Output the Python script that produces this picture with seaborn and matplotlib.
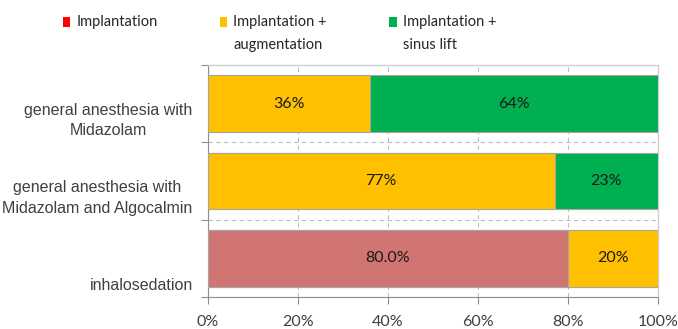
import matplotlib
matplotlib.use("Agg")
import matplotlib.pyplot as plt
from matplotlib.patches import Patch, Rectangle
from matplotlib.legend_handler import HandlerPatch
import numpy as np
import pandas as pd
import seaborn as sns

# Share of each procedure type per sedation method (percent of cases)
groups = ["general anesthesia with\nMidazolam",
          "general anesthesia with\nMidazolam and Algocalmin",
          "inhalosedation"]
implantation = [0, 0, 80.0]
augmentation = [36, 77, 20]
sinus_lift = [64, 23, 0]

series_names = ["Implantation\n ", "Implantation +\naugmentation", "Implantation +\nsinus lift"]
legend_colors = ["#FF0000", "#FFC000", "#00B050"]
bar_colors = ["#D07572", "#FFC000", "#00B050"]
label_formats = ["{:.1f}%", "{:.0f}%", "{:.0f}%"]
x_ticks = [0, 20, 40, 60, 80, 100]
x_tick_labels = ["0%", "20%", "40%", "60%", "80%", "100%"]

sns.set_style("white")
plt.rcParams["font.family"] = ["Lato", "DejaVu Sans"]

fig = plt.figure(figsize=(6.78, 3.29), dpi=100)
ax = fig.add_axes([208 / 678, 1 - 297 / 329, 450 / 678, 232 / 329])

series = [implantation, augmentation, sinus_lift]
cum = np.cumsum(np.array(series, dtype=float), axis=0)
starts = cum - np.array(series, dtype=float)

# stacked bars: draw cumulative totals from the back to the front
for k in range(len(series) - 1, -1, -1):
    df = pd.DataFrame({"group": groups, "value": cum[k]})
    sns.barplot(data=df, x="value", y="group", orient="h", color=bar_colors[k],
                saturation=1, width=0.73, edgecolor="#A6A6A6", linewidth=0.8,
                ax=ax, zorder=3)

for k, vals in enumerate(series):
    for i, v in enumerate(vals):
        if v > 0:
            ax.text(starts[k][i] + v / 2, i, label_formats[k].format(v),
                    ha="center", va="center", fontsize=11.5, color="#1a1a1a", zorder=5)

ax.set_xlim(0, 100)
ax.set_ylim(2.5, -0.5)
ax.set_xlabel("")
ax.set_ylabel("")

ax.set_xticks(x_ticks)
ax.set_xticklabels(x_tick_labels, fontsize=11.5, color="#404040")
ax.tick_params(axis="x", which="major", direction="out", length=5, width=0.8,
               color="#8C8C8C", pad=8, bottom=True)

# category names sit at the lower edge of each bar
ax.set_yticks([i + 0.45 for i in range(len(groups))])
ax.set_yticklabels(groups, fontsize=11.5, color="#404040", family="Liberation Sans")
for t in ax.get_yticklabels():
    t.set_verticalalignment("bottom")
    t.set_multialignment("center")
    t.set_linespacing(1.45)
ax.tick_params(axis="y", which="major", length=0, pad=11)
ax.set_yticks([-0.5, 0.5, 1.5, 2.5], minor=True)
ax.tick_params(axis="y", which="minor", direction="out", length=5, width=0.8,
               color="#8C8C8C", left=True)

ax.grid(False)
ax.xaxis.grid(True, which="major", linestyle=(0, (4, 3)), color="#BFBFBF", linewidth=0.8, zorder=0)
ax.yaxis.grid(True, which="minor", linestyle=(0, (4, 3)), color="#BFBFBF", linewidth=0.8, zorder=0)
ax.set_axisbelow(True)

for side in ["top", "right"]:
    ax.spines[side].set_color("#D0D0D0")
    ax.spines[side].set_linewidth(1.0)
for side in ["left", "bottom"]:
    ax.spines[side].set_color("#8C8C8C")
    ax.spines[side].set_linewidth(0.8)

LEG_FS = 10.5
LEG_LS = 1.85


def first_line_square(legend, orig_handle, xdescent, ydescent, width, height, fontsize):
    # lift the colour square up to the first line of a two-line label
    shift = fontsize * LEG_LS * 0.5 - 1.0
    return Rectangle((-xdescent, -ydescent + shift), width, height)


handles = [Patch(facecolor=c, edgecolor="none") for c in legend_colors]
leg = fig.legend(handles, series_names, loc="upper left",
                 bbox_to_anchor=(63 / 678, 1 - 15 / 329),
                 ncol=3, frameon=False, fontsize=LEG_FS, handlelength=0.5, handleheight=0.6,
                 handletextpad=0.4, columnspacing=4.3, labelcolor="#262626",
                 borderaxespad=0, borderpad=0,
                 handler_map={Patch: HandlerPatch(patch_func=first_line_square)})
for t in leg.get_texts():
    t.set_linespacing(LEG_LS)

fig.savefig("out.png", dpi=100)
